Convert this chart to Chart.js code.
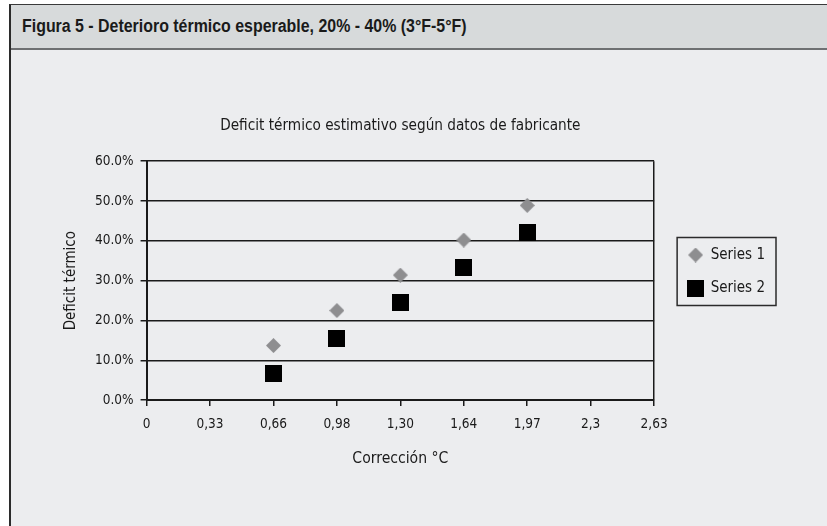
<!DOCTYPE html>
<html>
<head>
<meta charset="utf-8">
<script src="https://cdn.jsdelivr.net/npm/chart.js@4.4.1/dist/chart.umd.min.js"></script>
<style>
  html, body { margin: 0; padding: 0; background: #fff; }
  #frame {
    position: absolute; left: 9px; top: 4px; width: 818px; height: 522px;
    border-left: 2px solid #2b2b2b; border-top: 1px solid #3a3a3a;
    background: #ecedef; box-sizing: border-box;
  }
  #head {
    height: 45px; background: #d7dadb; border-bottom: 2px solid #6e7072;
    box-sizing: border-box; padding: 11px 0 0 11px;
  }
  #head span {
    display: inline-block; transform: scaleX(0.91); transform-origin: 0 0;
    font: bold 17.5px "Liberation Sans", Arial, sans-serif; color: #1a1a1a; white-space: nowrap;
  }
  #box { position: absolute; left: -11px; top: 45px; width: 827px; height: 477px; }
</style>
</head>
<body>
<div id="frame">
  <div id="head"><span>Figura 5 - Deterioro térmico esperable, 20% - 40% (3°F-5°F)</span></div>
  <div id="box"><canvas id="chart"></canvas></div>
</div>
<script>
const xLabels = ['0', '0,33', '0,66', '0,98', '1,30', '1,64', '1,97', '2,3', '2,63'];
const series1 = [null, null, 13.7, 22.5, 31.4, 40.2, 48.9, null, null];
const series2 = [null, null, 6.6, 15.4, 24.6, 33.3, 42.2, null, null];
const seriesNames = ['Series 1', 'Series 2'];
const yTicks = { min: 0, max: 60, step: 10 };

const FONT = '"Liberation Sans Narrow", "DejaVu Sans Condensed", sans-serif';
const INK = '#1a1a1a';

// little canvases used as markers (points and legend)
function marker(shape, size, color) {
  const c = document.createElement('canvas');
  c.width = c.height = size;
  const g = c.getContext('2d');
  g.fillStyle = color;
  if (shape === 'diamond') {
    g.beginPath();
    g.moveTo(size / 2, 0);
    g.lineTo(size, size / 2);
    g.lineTo(size / 2, size);
    g.lineTo(0, size / 2);
    g.closePath();
    g.fill();
  } else {
    g.fillRect(0, 0, size, size);
  }
  return c;
}
const diamond = marker('diamond', 15, '#8e8e90');
const square = marker('square', 17, '#000');

// title centred over the plot area, legend lifted a bit, like the original
const tweakLayout = {
  id: 'tweakLayout',
  afterLayout(chart) {
    const t = chart.titleBlock;
    if (t) { t.left = chart.chartArea.left; t.right = chart.chartArea.right; }
    const lg = chart.legend;
    if (lg) { lg.top -= 23; lg.bottom -= 23; }
  }
};

// frame around the legend
const legendFrame = {
  id: 'legendFrame',
  afterDraw(chart) {
    const boxes = chart.legend.legendHitBoxes;
    if (!boxes.length) return;
    const x0 = Math.min(...boxes.map(b => b.left)) - 11;
    const x1 = Math.max(...boxes.map(b => b.left + b.width)) + 11;
    const y0 = Math.min(...boxes.map(b => b.top)) - 10;
    const y1 = Math.max(...boxes.map(b => b.top + b.height)) + 10;
    const ctx = chart.ctx;
    ctx.save();
    ctx.strokeStyle = '#2b2b2b';
    ctx.lineWidth = 1.5;
    ctx.strokeRect(x0, y0, x1 - x0, y1 - y0);
    ctx.restore();
  }
};

new Chart(document.getElementById('chart'), {
  type: 'line',
  data: {
    labels: xLabels,
    datasets: [
      { label: seriesNames[0], data: series1, showLine: false, pointStyle: diamond,
        backgroundColor: '#8e8e90', borderColor: '#8e8e90' },
      { label: seriesNames[1], data: series2, showLine: false, pointStyle: square,
        backgroundColor: '#000', borderColor: '#000' }
    ]
  },
  options: {
    responsive: true,
    maintainAspectRatio: false,
    animation: false,
    layout: { padding: { left: 58, right: 52, top: 67, bottom: 55 } },
    plugins: {
      tooltip: { enabled: false },
      title: {
        display: true,
        text: 'Deficit térmico estimativo según datos de fabricante',
        color: INK,
        font: { family: FONT, size: 15.2, weight: 'normal' },
        padding: { top: 0, bottom: 26 }
      },
      legend: {
        position: 'right',
        labels: {
          usePointStyle: true,
          color: INK,
          font: { family: FONT, size: 15 },
          padding: 18
        }
      }
    },
    scales: {
      x: {
        offset: false,
        grid: {
          drawOnChartArea: true,
          color: ctx => ctx.index === xLabels.length - 1 ? INK : 'transparent',
          tickColor: INK,
          lineWidth: 1.5,
          tickLength: 6
        },
        border: { color: INK, width: 2 },
        ticks: { color: INK, font: { family: FONT, size: 13.5 }, padding: 10, maxRotation: 0, autoSkip: false },
        title: { display: true, text: 'Corrección °C', color: INK,
          font: { family: FONT, size: 15.6 }, padding: { top: 7 } }
      },
      y: {
        min: yTicks.min,
        max: yTicks.max,
        grid: { color: INK, lineWidth: 1.5, tickLength: 6 },
        border: { color: INK, width: 2 },
        ticks: { stepSize: yTicks.step, color: INK, font: { family: FONT, size: 13.5 }, padding: 7,
          callback: v => v.toFixed(1) + '%' },
        title: { display: true, text: 'Deficit térmico', color: INK,
          font: { family: FONT, size: 15 }, padding: { top: 4, bottom: 8 } }
      },
      // empty right-hand axis, only keeps a gap between plot and legend
      gap: {
        type: 'linear',
        position: 'right',
        display: true,
        grid: { drawOnChartArea: false, drawTicks: false },
        border: { display: false },
        ticks: { display: false },
        afterFit: s => { s.width = 16; }
      }
    }
  },
  plugins: [tweakLayout, legendFrame]
});
</script>
</body>
</html>
